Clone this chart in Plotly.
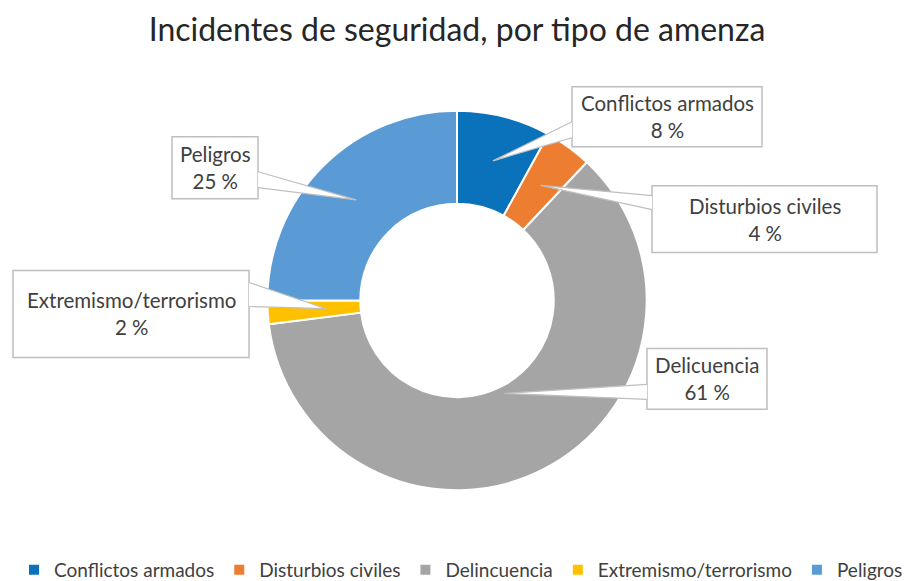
import math
import plotly.graph_objects as go

# ---- data ----
categories = ["Conflictos armados", "Disturbios civiles", "Delincuencia", "Extremismo/terrorismo", "Peligros"]
box_labels = ["Conflictos armados", "Disturbios civiles", "Delicuencia", "Extremismo/terrorismo", "Peligros"]
values = [8, 4, 61, 2, 25]
colors = ["#0A72BA", "#ED7D31", "#A5A5A5", "#FFC000", "#5B9BD5"]

TITLE = "Incidentes de seguridad, por tipo de amenza"

# ---- layout constants (pixels, in screenshot coordinates) ----
W, H = 920, 581
OFF = 8  # page body margin offset
CX, CY, R = 457, 301, 190
FONT = "Lato"
TXT = "#404040"

# callout boxes: (x0, y0, x1, y1), pointer side, pointer base y-range, tip radius fraction
boxes = [
    ((572, 87, 762, 147), "left", (122, 138), 0.76),
    ((652, 186, 877, 253), "left", (196, 210), 0.75),
    ((647, 349, 767, 410), "left", (385, 400), 0.55),
    ((13, 271, 249, 358), "right", (283, 307), 0.69),
    ((172, 137, 258, 199), "right", (172, 188), 0.75),
]


def fx(px):
    return (px - OFF) / W


def fy(py):
    return 1 - (py - OFF) / H


fig = go.Figure()
fig.add_trace(go.Pie(
    labels=categories,
    values=values,
    hole=0.51,
    sort=False,
    direction="clockwise",
    rotation=0,
    marker=dict(colors=colors, line=dict(color="white", width=2)),
    textinfo="none",
    hoverinfo="label+percent",
    domain=dict(x=[fx(CX - R), fx(CX + R)], y=[fy(CY + R), fy(CY - R)]),
))

shapes = []
annotations = []
total = sum(values)
cum = 0
for i, v in enumerate(values):
    (x0, y0, x1, y1), side, (b0, b1), rf = boxes[i]
    ang = 2 * math.pi * (cum + v / 2) / total
    cum += v
    tx = CX + rf * R * math.sin(ang)
    ty = CY - rf * R * math.cos(ang)
    bx = x0 if side == "left" else x1
    shapes.append(dict(type="rect", xref="paper", yref="paper",
                       x0=fx(x0), x1=fx(x1), y0=fy(y1), y1=fy(y0),
                       fillcolor="white", line=dict(color="#BFBFBF", width=1.5), layer="above"))
    shapes.append(dict(type="path", xref="paper", yref="paper",
                       path=f"M{fx(bx)},{fy(b0)} L{fx(tx)},{fy(ty)} L{fx(bx)},{fy(b1)}",
                       fillcolor="white", line=dict(color="#BFBFBF", width=1.2), layer="above"))
    pct = round(100 * v / total)
    annotations.append(dict(xref="paper", yref="paper", x=fx((x0 + x1) / 2), y=fy((y0 + y1) / 2),
                            text=f"{box_labels[i]}<br>{pct} %", showarrow=False,
                            xanchor="center", yanchor="middle", align="center",
                            font=dict(family=FONT, size=20.5, color=TXT)))

fig.update_layout(
    width=W, height=H,
    margin=dict(l=0, r=0, t=0, b=0),
    paper_bgcolor="white", plot_bgcolor="white",
    title=dict(text=TITLE, x=fx(457), xanchor="center", y=fy(30), yanchor="middle",
               font=dict(family=FONT, size=32, color="#262626")),
    showlegend=True,
    legend=dict(orientation="h", x=fx(461), xanchor="center", y=fy(571), yanchor="middle",
                font=dict(family=FONT, size=19, color=TXT), itemwidth=30,
                traceorder="normal"),
    shapes=shapes,
    annotations=annotations,
)

fig.write_html("out.html")
